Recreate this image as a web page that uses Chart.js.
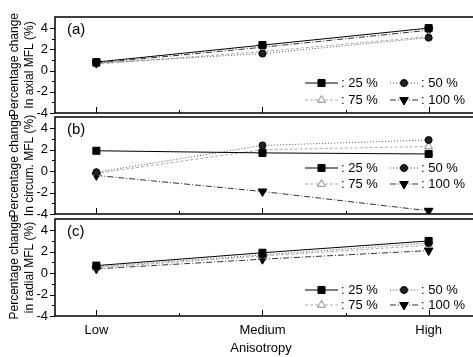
<!DOCTYPE html>
<html>
<head>
<meta charset="utf-8">
<script src="https://cdn.jsdelivr.net/npm/chart.js@4.4.1/dist/chart.umd.min.js"></script>
<style>
  body { margin: 0; background: #fff; }
  #wrap { position: relative; width: 473px; height: 357px; overflow: hidden; background: #fff; }
  #wrap canvas { position: absolute; left: 0; }
</style>
</head>
<body>
<div id="wrap">
  <canvas id="axialChart" style="top:-10px"></canvas>
  <canvas id="circChart" style="top:90px"></canvas>
  <canvas id="radialChart" style="top:190px"></canvas>
</div>
<script>
// Data
const categories = ['Low', 'Medium', 'High'];
const seriesNames = ['25 %', '50 %', '75 %', '100 %'];
const yTicks = [-4, -2, 0, 2, 4];

const axial25 = [0.8, 2.4, 4.0];
const axial50 = [0.7, 1.6, 3.1];
const axial75 = [0.6, 1.8, 3.2];
const axial100 = [0.7, 2.2, 3.8];

const circ25 = [1.9, 1.7, 1.6];
const circ50 = [-0.1, 2.4, 2.9];
const circ75 = [-0.2, 2.0, 2.3];
const circ100 = [-0.4, -1.9, -3.7];

const radial25 = [0.7, 1.9, 3.0];
const radial50 = [0.6, 1.7, 2.8];
const radial75 = [0.5, 1.6, 2.6];
const radial100 = [0.4, 1.3, 2.1];

const FONT = 'Arial, "Liberation Sans", sans-serif';

// Series look
const seriesStyles = [
    { color: '#000', dash: [], pointStyle: 'rect', radius: 5, fill: '#000', rotation: 0 },
    { color: '#555', dash: [1, 2], pointStyle: 'circle', radius: 3.5, fill: '#222', rotation: 0 },
    { color: '#aaa', dash: [3, 2], pointStyle: 'triangle', radius: 4.5, fill: '#fff', border: '#888', rotation: 0 },
    { color: '#333', dash: [6, 2, 1, 2], pointStyle: 'triangle', radius: 5, fill: '#000', rotation: 180 }
];

function makeDatasets(seriesList) {
    return seriesList.map((values, i) => {
        const s = seriesStyles[i];
        return {
            label: seriesNames[i],
            data: values.map((v, j) => ({ x: j, y: v })),
            borderColor: s.color,
            borderWidth: 1,
            borderDash: s.dash,
            pointStyle: s.pointStyle,
            pointRadius: s.radius,
            pointRotation: s.rotation,
            pointBackgroundColor: s.fill,
            pointBorderColor: s.border || '#000',
            pointBorderWidth: 1,
            tension: 0
        };
    });
}

// Frame, ticks, panel letter and legend
const panelPlugin = {
    id: 'panelPlugin',
    afterDraw(chart, args, opts) {
        const ctx = chart.ctx;
        const a = chart.chartArea;
        const xs = chart.scales.x;
        const ys = chart.scales.y;
        ctx.save();
        ctx.strokeStyle = '#000';
        ctx.lineWidth = 1.5;
        ctx.beginPath();
        ctx.moveTo(chart.width + 2, a.top);
        ctx.lineTo(a.left, a.top);
        ctx.lineTo(a.left, a.bottom);
        ctx.lineTo(chart.width + 2, a.bottom);
        ctx.stroke();

        ctx.lineWidth = 1;
        ctx.beginPath();
        for (let v = -4; v <= 4; v++) {
            const y = Math.round(ys.getPixelForValue(v)) + 0.5;
            const len = v % 2 === 0 ? 5 : 3;
            ctx.moveTo(a.left, y);
            ctx.lineTo(a.left - len, y);
        }
        for (let v = 0; v <= 2; v += 0.5) {
            const x = Math.round(xs.getPixelForValue(v)) + 0.5;
            const len = Number.isInteger(v) ? 6 : 3;
            ctx.moveTo(x, a.bottom);
            ctx.lineTo(x, a.bottom - len);
        }
        ctx.stroke();

        ctx.fillStyle = '#000';
        ctx.font = '15px ' + FONT;
        ctx.textBaseline = 'middle';
        ctx.textAlign = 'left';
        ctx.fillText(opts.letter, a.left + 12, a.top + 13);

        // legend
        ctx.font = '13px ' + FONT;
        chart.data.datasets.forEach((ds, i) => {
            const row = Math.floor(i / 2);
            const col = i % 2;
            const y = a.top + opts.rows[row];
            const c = opts.cols[col];
            ctx.save();
            ctx.strokeStyle = ds.borderColor;
            ctx.lineWidth = 1;
            ctx.setLineDash(ds.borderDash);
            ctx.beginPath();
            ctx.moveTo(c.x0, y);
            ctx.lineTo(c.x1, y);
            ctx.stroke();
            ctx.restore();
            ctx.save();
            ctx.fillStyle = ds.pointBackgroundColor;
            ctx.strokeStyle = ds.pointBorderColor;
            ctx.lineWidth = 1;
            Chart.helpers.drawPoint(ctx, {
                pointStyle: ds.pointStyle,
                radius: ds.pointRadius,
                rotation: ds.pointRotation,
                borderWidth: 1
            }, (c.x0 + c.x1) / 2, y);
            ctx.restore();
            ctx.fillStyle = '#000';
            ctx.fillText(': ' + ds.label, c.x1 + 3, y);
        });
        ctx.restore();
    }
};

function makeChart(id, height, padTop, padBottom, seriesList, titleLine2, letter, rows, showX) {
    const canvas = document.getElementById(id);
    canvas.width = 473;
    canvas.height = height;
    return new Chart(canvas, {
        type: 'line',
        data: { datasets: makeDatasets(seriesList) },
        plugins: [panelPlugin],
        options: {
            responsive: false,
            animation: false,
            layout: { padding: { top: padTop, bottom: padBottom, left: 0, right: 0 } },
            plugins: {
                legend: { display: false },
                tooltip: { enabled: false },
                panelPlugin: {
                    letter: letter,
                    rows: rows,
                    cols: [{ x0: 305, x1: 338 }, { x0: 390, x1: 418 }]
                }
            },
            scales: {
                x: {
                    type: 'linear',
                    min: -0.249,
                    max: 2.231,
                    display: showX,
                    afterBuildTicks: s => { s.ticks = categories.map((c, i) => ({ value: i })); },
                    afterFit: s => { if (showX) s.height = 41; },
                    ticks: {
                        padding: 7,
                        color: '#000',
                        font: { family: FONT, size: 13 },
                        callback: v => categories[v]
                    },
                    grid: { display: false, drawTicks: false, tickLength: 0 },
                    border: { display: false },
                    title: {
                        display: true,
                        text: 'Anisotropy',
                        color: '#000',
                        font: { family: FONT, size: 13 },
                        padding: { top: 0, bottom: 1 }
                    }
                },
                y: {
                    min: -4,
                    max: 5.05,
                    afterBuildTicks: s => { s.ticks = yTicks.map(v => ({ value: v })); },
                    afterFit: s => { s.width = 55; },
                    ticks: {
                        padding: 7,
                        color: '#000',
                        font: { family: FONT, size: 13 }
                    },
                    grid: { display: false, drawTicks: false, tickLength: 0 },
                    border: { display: false },
                    title: {
                        display: true,
                        text: ['Percentage change', titleLine2],
                        color: '#000',
                        font: { family: FONT, size: 12, lineHeight: 1.25 },
                        padding: { top: 7, bottom: 0 }
                    }
                }
            }
        }
    });
}

makeChart('axialChart', 150, 27, 27, [axial25, axial50, axial75, axial100],
    'In axial MFL (%)', '(a)', [66, 83], false);
makeChart('circChart', 150, 27, 26, [circ25, circ50, circ75, circ100],
    'In circum. MFL (%)', '(b)', [51, 67], false);
makeChart('radialChart', 167, 29, 0, [radial25, radial50, radial75, radial100],
    'in radial MFL (%)', '(c)', [71, 86], true);
</script>
</body>
</html>
